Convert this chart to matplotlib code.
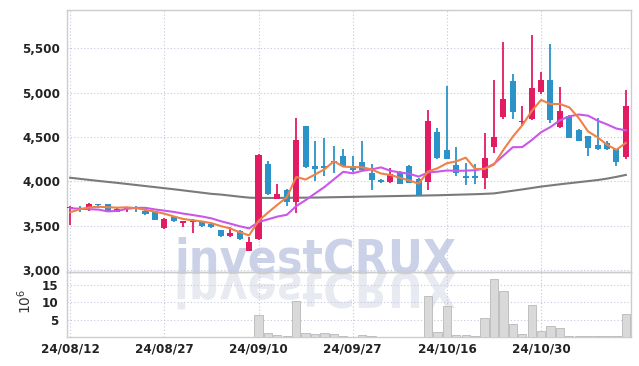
import matplotlib.pyplot as plt
import numpy as np
from matplotlib.font_manager import FontProperties
from matplotlib.patches import PathPatch
from matplotlib.textpath import TextPath
from matplotlib.transforms import Affine2D, IdentityTransform

# trading days 2024-08-12 .. 2024-11-12 (KRX calendar)
dates = [
    "24/08/12", "24/08/13", "24/08/14", "24/08/16", "24/08/19", "24/08/20",
    "24/08/21", "24/08/22", "24/08/23", "24/08/26", "24/08/27", "24/08/28",
    "24/08/29", "24/08/30", "24/09/02", "24/09/03", "24/09/04", "24/09/05",
    "24/09/06", "24/09/09", "24/09/10", "24/09/11", "24/09/12", "24/09/13",
    "24/09/19", "24/09/20", "24/09/23", "24/09/24", "24/09/25", "24/09/26",
    "24/09/27", "24/09/30", "24/10/02", "24/10/04", "24/10/07", "24/10/08",
    "24/10/10", "24/10/11", "24/10/14", "24/10/15", "24/10/16", "24/10/17",
    "24/10/18", "24/10/21", "24/10/22", "24/10/23", "24/10/24", "24/10/25",
    "24/10/28", "24/10/29", "24/10/30", "24/10/31", "24/11/01", "24/11/04",
    "24/11/05", "24/11/06", "24/11/07", "24/11/08", "24/11/11", "24/11/12",
]

opens = [
    3695, 3695, 3695, 3735, 3740, 3655, 3690, 3712, 3665, 3660,
    3470, 3597, 3530, 3540, 3545, 3523, 3448, 3378, 3440, 3216,
    3347, 4200, 3805, 3900, 3765, 4625, 4170, 4170, 4230, 4280,
    4170, 4218, 4095, 4010, 3990, 4100, 4175, 4030, 3990, 4560,
    4348, 4187, 4055, 4055, 4038, 4390, 4725, 5128, 4667, 4700,
    5010, 5147, 4617, 4737, 4580, 4512, 4412, 4438, 4367, 4270,
]
highs = [
    3720, 3720, 3750, 3740, 3745, 3700, 3710, 3725, 3670, 3665,
    3580, 3605, 3555, 3570, 3550, 3530, 3455, 3480, 3445, 3365,
    4305, 4225, 3970, 3910, 4720, 4630, 4450, 4490, 4395, 4365,
    4285, 4450, 4195, 4030, 4150, 4115, 4180, 4035, 4810, 4600,
    5075, 4390, 4210, 4190, 4550, 5140, 5570, 5210, 4850, 5650,
    5235, 5555, 5070, 4745, 4585, 4515, 4710, 4460, 4370, 5035,
]
lows = [
    3510, 3650, 3665, 3700, 3660, 3650, 3650, 3650, 3615, 3560,
    3465, 3535, 3480, 3415, 3480, 3475, 3375, 3375, 3340, 3210,
    3340, 3840, 3800, 3720, 3645, 4155, 4000, 4055, 4090, 4165,
    4110, 4125, 3900, 3985, 3985, 3965, 3975, 3830, 3905, 4250,
    4250, 4060, 3955, 3965, 3915, 4320, 4700, 4700, 4635, 4690,
    4990, 4655, 4600, 4490, 4450, 4290, 4355, 4355, 4175, 4250,
]
closes = [
    3715, 3685, 3740, 3728, 3665, 3690, 3705, 3695, 3630, 3565,
    3575, 3550, 3550, 3560, 3497, 3480, 3385, 3415, 3347, 3317,
    4300, 3852, 3855, 3765, 4470, 4160, 4135, 4145, 4220, 4170,
    4127, 4132, 4020, 3992, 4085, 3970, 3985, 3833, 4680, 4265,
    4255, 4094, 4040, 4042, 4262, 4505, 4925, 4785, 4685, 5058,
    5140, 4690, 4793, 4494, 4460, 4375, 4367, 4364, 4214, 4850,
]
# volume in millions of shares
volumes = [
    0.1, 0.1, 0.1, 0.1, 0.1, 0.1, 0.1, 0.1, 0.1, 0.1,
    0.1, 0.1, 0.1, 0.1, 0.1, 0.1, 0.1, 0.1, 0.1, 0.1,
    6.5, 1.3, 0.5, 0.2, 10.3, 1.3, 1.0, 1.3, 0.8, 0.2,
    0.1, 0.5, 0.2, 0.1, 0.1, 0.1, 0.1, 0.1, 12.0, 1.4,
    8.9, 0.5, 0.5, 0.3, 5.6, 16.9, 13.2, 3.7, 0.8, 9.4,
    1.6, 3.1, 2.7, 0.4, 0.2, 0.4, 0.4, 0.2, 0.2, 6.6,
]
ma5 = [
    3650, 3683, 3705, 3712, 3707, 3702, 3706, 3697, 3677, 3657,
    3634, 3603, 3574, 3560, 3546, 3527, 3494, 3467, 3425, 3389,
    3553, 3646, 3734, 3818, 4048, 4020, 4077, 4135, 4226, 4166,
    4159, 4159, 4134, 4088, 4071, 4040, 4010, 3973, 4111, 4147,
    4204, 4225, 4267, 4139, 4139, 4189, 4355, 4504, 4632, 4792,
    4919, 4872, 4873, 4835, 4715, 4562, 4497, 4412, 4356, 4434,
]
ma10 = [
    3695, 3690, 3685, 3680, 3660, 3665, 3688, 3700, 3700, 3682,
    3668, 3654, 3635, 3619, 3602, 3581, 3549, 3521, 3492, 3468,
    3540, 3570, 3601, 3621, 3719, 3787, 3862, 3935, 4022, 4107,
    4090, 4118, 4134, 4157, 4119, 4100, 4085, 4053, 4099, 4109,
    4122, 4118, 4120, 4125, 4143, 4196, 4290, 4385, 4386, 4465,
    4554, 4613, 4689, 4734, 4754, 4741, 4685, 4643, 4596, 4575,
]
ma_long = [
    4040, 4028, 4016, 4004, 3993, 3982, 3970, 3958, 3946, 3934,
    3922, 3910, 3897, 3884, 3871, 3858, 3850, 3838, 3826, 3815,
    3812, 3812, 3812, 3813, 3814, 3815, 3816, 3818, 3820, 3822,
    3824, 3826, 3828, 3830, 3832, 3834, 3836, 3838, 3840, 3842,
    3845, 3848, 3851, 3854, 3858, 3863, 3878, 3893, 3908, 3924,
    3940, 3953, 3966, 3978, 3990, 4002, 4014, 4030, 4050, 4072,
]

UP = "#e31b63"
DOWN = "#2b93c8"
GRID = "#c3c8de"
SPINE = "#cccccc"
tick_fp = FontProperties(family="DejaVu Sans", stretch="condensed",
                         weight="bold", size=9.5)

x = np.arange(len(dates))
o = np.array(opens)
c = np.array(closes)
colors = [UP if cc >= oo else DOWN for oo, cc in zip(o, c)]
body_low = np.minimum(o, c)
body_h = np.maximum(np.abs(c - o), 12)

fig = plt.figure(figsize=(6.39, 3.66), dpi=100)
ax = fig.add_axes([0.1049, 0.2568, 0.8826, 0.7159])
ax_v = fig.add_axes([0.1049, 0.0792, 0.8826, 0.1776], sharex=ax)
for a in (ax, ax_v):
    a.set_facecolor("none")

# watermark (real text) + its mirrored reflection, both behind the axes
wm_size = 34.5
wm_fp = FontProperties(family="DejaVu Sans", stretch="condensed",
                       weight="bold", size=wm_size)
wm_x, wm_base = 174, 366 - 273
fig.text(wm_x / 639, wm_base / 366, "investCRUX", fontproperties=wm_fp,
         color="#cbd2e8", ha="left", va="baseline", zorder=-2)
tp = TextPath((0, 0), "investCRUX", size=wm_size * 100 / 72, prop=wm_fp)
refl = Affine2D().scale(1, -1).translate(wm_x, wm_base)
fig.patches.append(PathPatch(refl.transform_path(tp), facecolor="#e8eaf2",
                             edgecolor="none", transform=IdentityTransform(),
                             zorder=-3, figure=fig))

# candles
ax.vlines(x, lows, highs, color=colors, linewidth=1.3, zorder=3)
ax.bar(x, body_h, bottom=body_low, width=0.64, color=colors, zorder=4)

ax.plot(x, ma_long, color="#7a7a7a", linewidth=1.5, zorder=2)
ax.plot(x, ma10, color="#c957ea", linewidth=1.5, zorder=5)
ax.plot(x, ma5, color="#ef8148", linewidth=1.5, zorder=5)

ax_v.bar(x, volumes, width=0.88, color="#d9d9d9", edgecolor="#b8b8b8",
         linewidth=0.6, zorder=3)

ax.set_xlim(-0.33, 59.55)
ax.set_ylim(2975, 5935)
ax_v.set_ylim(0, 18.8)

ax.set_yticks([3000, 3500, 4000, 4500, 5000, 5500])
ax.set_yticklabels([f"{v:,}" for v in [3000, 3500, 4000, 4500, 5000, 5500]])
ax_v.set_yticks([5, 10, 15])
ax_v.set_yticklabels(["5", "10", "15"])
tick_pos = x[::10]
ax_v.set_xticks(tick_pos)
ax_v.set_xticklabels([dates[i] for i in tick_pos])
ax.tick_params(axis="x", labelbottom=False, length=0)
ax.tick_params(axis="y", length=0, pad=5, labelcolor="#222222")
ax_v.tick_params(axis="y", length=0, pad=6, labelcolor="#222222")
ax_v.tick_params(axis="x", length=0, pad=4, labelcolor="#222222")
for lab in ax.get_yticklabels() + ax_v.get_yticklabels() + ax_v.get_xticklabels():
    lab.set_fontproperties(tick_fp)

for a in (ax, ax_v):
    a.grid(True, linestyle=(0, (1, 2)), color=GRID, linewidth=0.8)
    a.set_axisbelow(True)
    for s in a.spines.values():
        s.set_color(SPINE)
        s.set_linewidth(1.0)

ax_v.set_ylabel(r"$10^6$", fontsize=10, color="#333333", rotation=90)
ax_v.yaxis.set_label_coords(-0.058, 0.55)

fig.savefig("out.png", dpi=100)
